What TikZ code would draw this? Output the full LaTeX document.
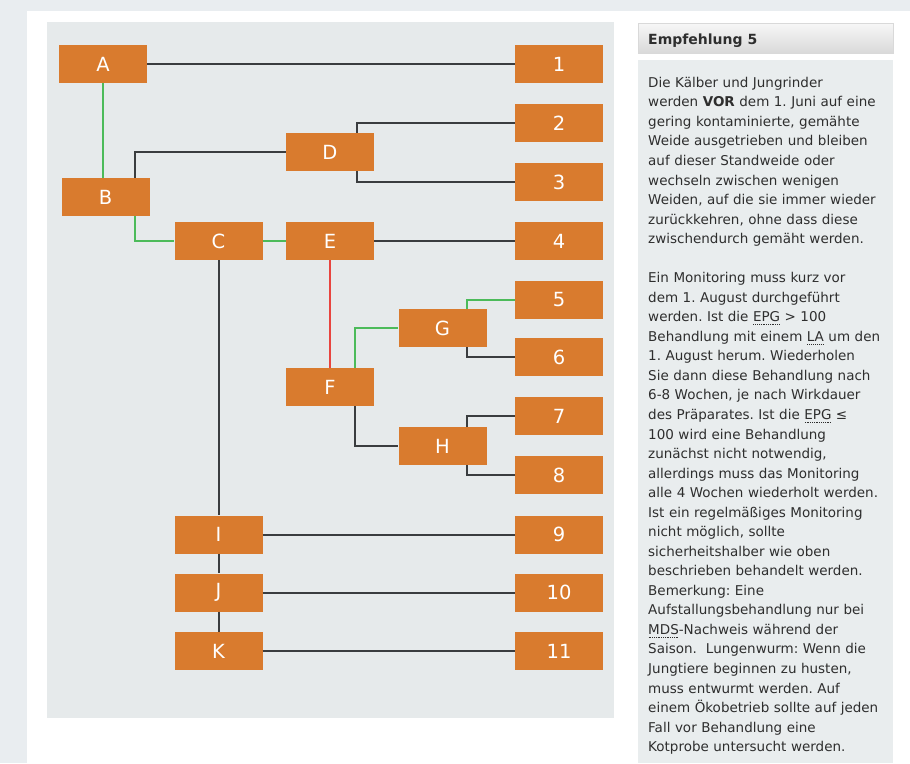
\documentclass[tikz,border=0pt]{standalone}
\usepackage{fontspec}
\setmainfont{DejaVu Sans}
\definecolor{pagebg}{HTML}{E9EDF0}
\definecolor{areabg}{HTML}{E6EAEB}
\definecolor{panelbg}{HTML}{E9EDEE}
\definecolor{boxorange}{HTML}{D97B2E}
\definecolor{linegreen}{HTML}{4CBB5A}
\definecolor{linered}{HTML}{E8453F}
\definecolor{linedark}{HTML}{3A3D3F}
\definecolor{textdark}{HTML}{2E2E2E}
\newcommand{\abbrline}[1]{\leavevmode\setbox0=\hbox{#1}\rlap{\raisebox{-3pt}{\hbox to \wd0{\xleaders\hbox to 1.8pt{\hss\rule{0.9pt}{0.8pt}\hss}\hfill}}}#1}

\begin{document}
\frenchspacing
\begin{tikzpicture}[x=1pt,y=-1pt,
    box/.style={fill=boxorange,text=white,minimum width=88pt,minimum height=38pt,inner sep=0pt,font=\fontsize{19.5}{19.5}\selectfont},
    con/.style={line width=2pt,linedark},
    okcon/.style={line width=2pt,linegreen},
    badcon/.style={line width=2pt,linered}]
    \useasboundingbox (0,0) rectangle (910,763);
    \fill[pagebg] (0,0) rectangle (910,763);
    \fill[white] (27,11) rectangle (910,763);
    \fill[areabg] (47,22) rectangle (614,718);
    % right column
    \shade[top color=gray!6,bottom color=gray!30,draw=gray!30] (638,23) rectangle (893,53);
    \fill[panelbg] (638,60) rectangle (893,763);
    \node[anchor=base west,inner sep=0pt,text=textdark,font=\bfseries\fontsize{14}{16}\selectfont] (head) at (648,44) {Empfehlung 5};
    \node[anchor=base west,inner sep=0pt,text=textdark,text width=262pt,align=left,font=\fontsize{13.5}{19.54}\selectfont] (body) at (648,87.3) {%
        Die Kälber und Jungrinder\\
        werden \textbf{VOR} dem 1. Juni auf eine\\
        gering kontaminierte, gemähte\\
        Weide ausgetrieben und bleiben\\
        auf dieser Standweide oder\\
        wechseln zwischen wenigen\\
        Weiden, auf die sie immer wieder\\
        zurückkehren, ohne dass diese\\
        zwischendurch gemäht werden.\\[19.54pt]
        Ein Monitoring muss kurz vor\\
        dem 1. August durchgeführt\\
        werden. Ist die \abbrline{EPG} > 100\\
        Behandlung mit einem \abbrline{LA} um den\\
        1. August herum. Wiederholen\\
        Sie dann diese Behandlung nach\\
        6-8 Wochen, je nach Wirkdauer\\
        des Präparates. Ist die \abbrline{EPG} ≤\\
        100 wird eine Behandlung\\
        zunächst nicht notwendig,\\
        allerdings muss das Monitoring\\
        alle 4 Wochen wiederholt werden.\\
        Ist ein regelmäßiges Monitoring\\
        nicht möglich, sollte\\
        sicherheitshalber wie oben\\
        beschrieben behandelt werden.\\
        Bemerkung: Eine\\
        Aufstallungsbehandlung nur bei\\
        \abbrline{MDS}-Nachweis während der\\
        Saison.~ Lungenwurm: Wenn die\\
        Jungtiere beginnen zu husten,\\
        muss entwurmt werden. Auf\\
        einem Ökobetrieb sollte auf jeden\\
        Fall vor Behandlung eine\\
        Kotprobe untersucht werden.};
    % tree
    \node[box] (A) at (103,64) {A};
    \node[box] (B) at (105.5,197) {B};
    \node[box] (C) at (218.5,241) {C};
    \node[box] (D) at (330,152) {D};
    \node[box] (E) at (330,241) {E};
    \node[box] (F) at (330,387) {F};
    \node[box] (G) at (442.5,328) {G};
    \node[box] (H) at (442.5,446) {H};
    \node[box] (I) at (218.5,534.5) {I};
    \node[box] (J) at (218.5,592.5) {J};
    \node[box] (K) at (218.5,651) {K};
    \node[box] (n1) at (559,64) {1};
    \node[box] (n2) at (559,123) {2};
    \node[box] (n3) at (559,182) {3};
    \node[box] (n4) at (559,241) {4};
    \node[box] (n5) at (559,299.5) {5};
    \node[box] (n6) at (559,357) {6};
    \node[box] (n7) at (559,416) {7};
    \node[box] (n8) at (559,475) {8};
    \node[box] (n9) at (559,534.5) {9};
    \node[box] (n10) at (559,592.5) {10};
    \node[box] (n11) at (559,651) {11};
    \draw[con] (A) -- (n1);
    \draw[okcon] (A) -- (A |- B.north);
    \draw[con] ([xshift=29.5pt]B.north) |- (D);
    \draw[okcon] ([xshift=29.5pt]B.south) |- (C);
    \draw[okcon] (C) -- (E);
    \draw[con] (E) -- (n4);
    \draw[con] ([xshift=27pt]D.north) |- (n2);
    \draw[con] ([xshift=27pt]D.south) |- (n3);
    \draw[badcon] (E) -- (F);
    \draw[okcon] ([xshift=25pt]F.north) |- (G);
    \draw[con] ([xshift=25pt]F.south) |- (H);
    \draw[okcon] ([xshift=24.5pt]G.north) |- (n5);
    \draw[con] ([xshift=24.5pt]G.south) |- (n6);
    \draw[con] ([xshift=24.5pt]H.north) |- (n7);
    \draw[con] ([xshift=24.5pt]H.south) |- (n8);
    \draw[con] (C) -- (I);
    \draw[con] (I) -- (J);
    \draw[con] (J) -- (K);
    \draw[con] (I) -- (n9);
    \draw[con] (J) -- (n10);
    \draw[con] (K) -- (n11);
\end{tikzpicture}
\end{document}
